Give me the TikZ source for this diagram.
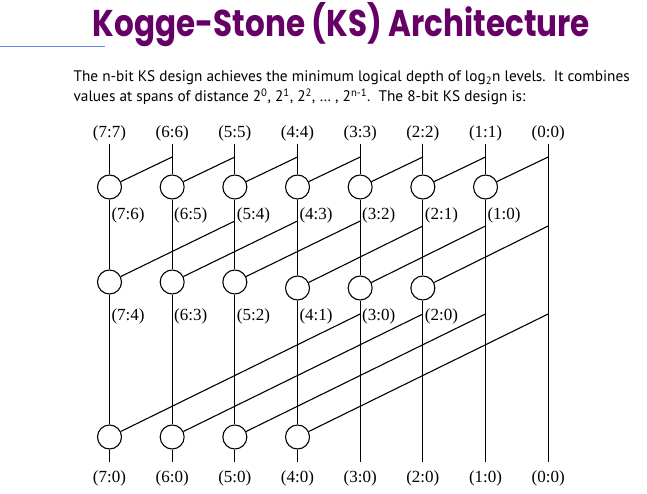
\documentclass[tikz,border=0pt]{standalone}
\usepackage{fontspec}
\setmainfont{Liberation Serif}
\newfontfamily\titlefont{Poppins}
\newfontfamily\bodyfont{PT Sans}
\definecolor{titlepurple}{RGB}{102,0,102}
\definecolor{rulecol}{RGB}{112,132,228}
\begin{document}
\begin{tikzpicture}[x=1pt,y=-1pt,line width=1.1pt,
  gate/.style={circle,draw,fill=white,minimum size=24pt,inner sep=0pt,line width=1.1pt},
  lbl/.style={font=\fontsize{17}{17}\selectfont,inner sep=0pt},
  body/.style={anchor=base west,inner sep=0pt,font=\bodyfont\fontsize{15.3}{18}\selectfont},
  wire/.style={draw,line width=1.1pt}]
\fill[white] (0,0) rectangle (647,494);
\useasboundingbox (0,0) rectangle (647,494);
% title
\node[inner sep=0pt,text=titlepurple] (title) at (341.5,25)
  {\resizebox{497pt}{34pt}{\titlefont\bfseries\fontsize{30}{30}\selectfont Kogge-Stone (KS) Architecture}};
\coordinate (rulel) at (0,47);
\coordinate (ruler) at (105,47);
\draw[rulecol,line width=1pt] (rulel) -- (ruler);
% body text
\node[body] (body1) at (73,82) {The n-bit KS design achieves the minimum logical depth of log\textsubscript{2}n levels.\ \ It combines};
\node[body] (body2) at (73,102) {values at spans of distance 2\textsuperscript{0}, 2\textsuperscript{1}, 2\textsuperscript{2}, \ldots\ , 2\textsuperscript{n-1}.\ \ The 8-bit KS design is:};
% columns
\foreach \k in {0,...,7} {
  \pgfmathtruncatemacro\bit{7-\k}
  \coordinate (T\k) at (109.5+62.67*\k,144);
  \coordinate (B\k) at (109.5+62.67*\k,462);
  \node[lbl] (top\k) at (109.5+62.67*\k,133) {(\bit:\bit)};
  \node[lbl] (bot\k) at (109.5+62.67*\k,478) {(\bit:0)};
}
% level 1
\foreach \k in {0,...,6} {
  \pgfmathtruncatemacro\bit{7-\k}
  \pgfmathtruncatemacro\lo{\bit-1}
  \node[gate] (ga\k) at (109.5+62.67*\k,187) {};
  \node[lbl,anchor=west] (la\k) at (111+62.67*\k,215) {(\bit:\lo)};
  \coordinate (da\k) at (172.17+62.67*\k,157);
  \draw[wire] (da\k) -- (ga\k);
}
% level 2
\foreach \k in {0,...,5} {
  \pgfmathtruncatemacro\bit{7-\k}
  \pgfmathtruncatemacro\lo{max(\bit-3,0)}
  \pgfmathsetmacro\gy{\k<3 ? 282 : 288}
  \pgfmathsetmacro\sy{\k<3 ? 221 : 226}
  \node[gate] (gb\k) at (109.5+62.67*\k,\gy) {};
  \node[lbl,anchor=west] (lb\k) at (111+62.67*\k,316) {(\bit:\lo)};
  \coordinate (db\k) at (234.84+62.67*\k,\sy);
  \draw[wire] (db\k) -- (gb\k);
}
% level 3
\foreach \k in {0,...,3} {
  \node[gate] (gc\k) at (109.5+62.67*\k,437) {};
  \coordinate (dc\k) at (360.18+62.67*\k,314);
  \draw[wire] (dc\k) -- (gc\k);
}
% vertical wires
\foreach \k in {0,...,3} \draw[wire] (T\k) -- (ga\k) -- (gb\k) -- (gc\k) -- (B\k);
\foreach \k in {4,5} \draw[wire] (T\k) -- (ga\k) -- (gb\k) -- (B\k);
\draw[wire] (T6) -- (ga6) -- (B6);
\draw[wire] (T7) -- (B7);
\end{tikzpicture}
\end{document}
